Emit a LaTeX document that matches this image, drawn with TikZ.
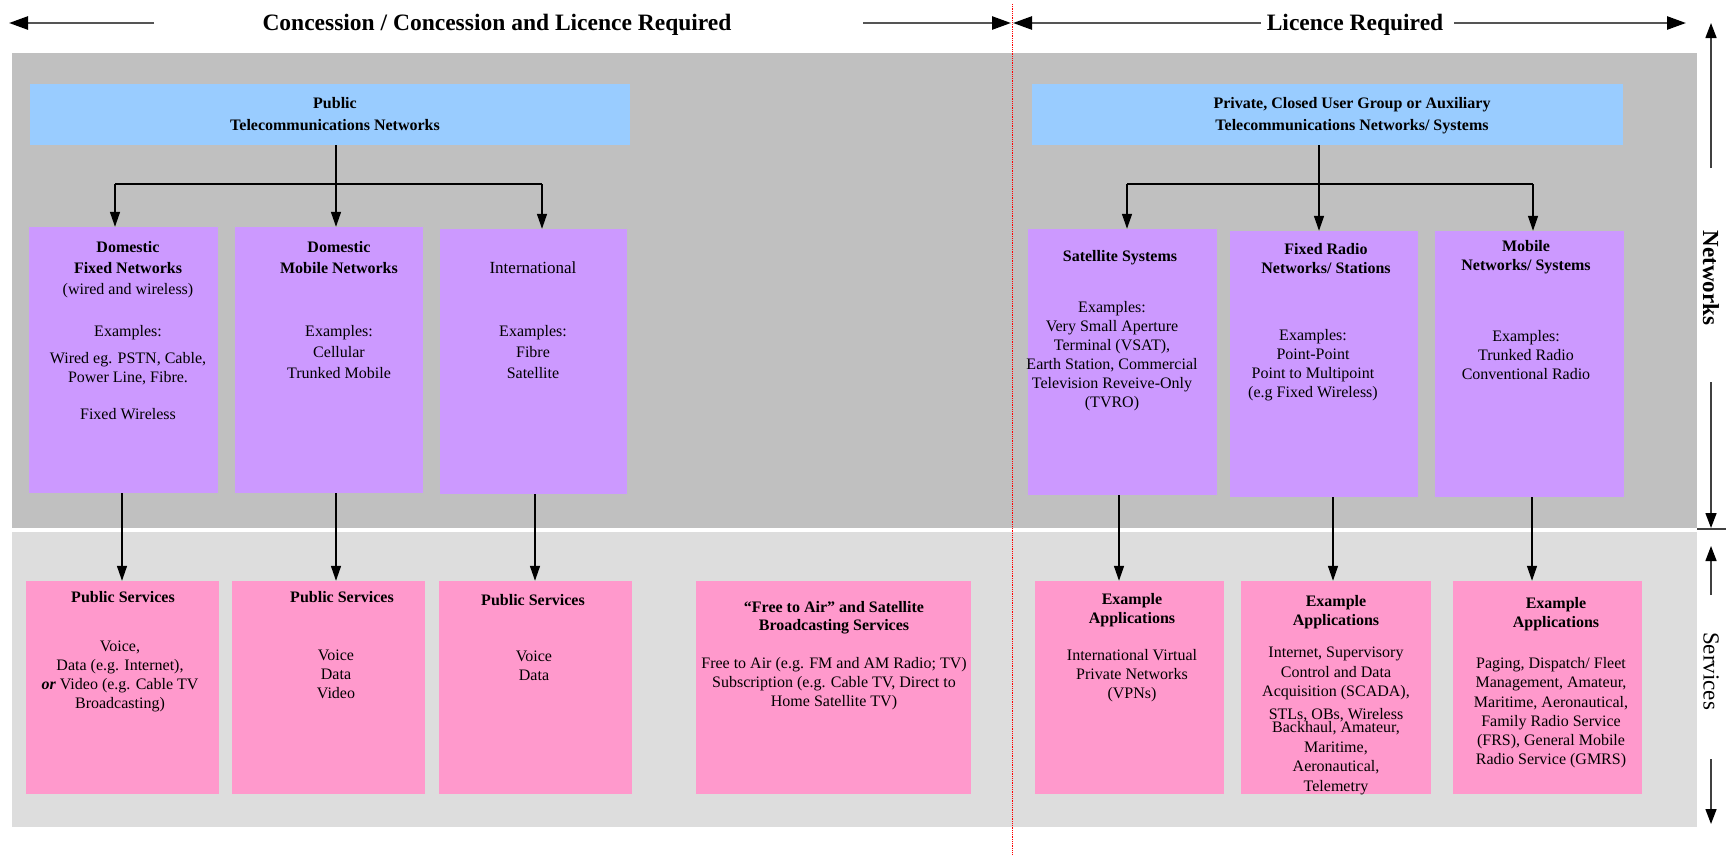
\documentclass[tikz,border=0pt]{standalone}
\usepackage{fontspec}
\setmainfont{Liberation Serif}
\usetikzlibrary{arrows.meta}
\definecolor{darkg}{HTML}{C0C0C0}
\definecolor{lightg}{HTML}{DDDDDD}
\definecolor{blueC}{HTML}{99CCFF}
\definecolor{purpC}{HTML}{CC99FF}
\definecolor{pinkC}{HTML}{FF99CC}
\definecolor{hdrline}{HTML}{555555}
\definecolor{sideline}{HTML}{404040}
\newcommand\fsz[1]{\fontsize{16}{#1}\selectfont}
\begin{document}
\begin{tikzpicture}[x=1pt,y=-1pt,
  bluebox/.style={fill=blueC,draw=none,inner sep=0pt},
  purplebox/.style={fill=purpC,draw=none,inner sep=0pt},
  pinkbox/.style={fill=pinkC,draw=none,inner sep=0pt,minimum height=213pt},
  txt/.style={align=center,anchor=north,inner sep=0pt,font=\fsz{19}},
  conn/.style={line width=1.4pt,black},
  arr/.style={conn,-{Triangle[length=15pt,width=10pt]}},
  hdrarr/.style={line width=2.5pt,hdrline,-{Triangle[length=19pt,width=13pt,fill=black,color=black]}},
  sidearr/.style={line width=1.5pt,sideline,-{Triangle[length=15pt,width=11pt,fill=black,color=black]}},
  hdrtext/.style={anchor=base,inner sep=0pt,font=\fontsize{23.5}{28}\selectfont\bfseries},
  sidetext/.style={rotate=-90,inner sep=0pt,font=\fontsize{23}{28}\selectfont}
]
\useasboundingbox (0,0) rectangle (1726,854);
\fill[white] (0,0) rectangle (1726,854);

% background bands
\fill[darkg] (12,53) rectangle (1697,528);
\fill[lightg] (12,532) rectangle (1697,827);

% separator
\draw[red,densely dotted,line width=0.8pt] (1012,4) -- (1012,854);

% header
\node[hdrtext] (hL) at (497,30) {Concession / Concession and Licence Required};
\node[hdrtext] (hR) at (1355,30) {Licence Required};
\coordinate (h1s) at (154,23); \coordinate (h1e) at (9,23);
\coordinate (h2s) at (863,23); \coordinate (h2e) at (1011,23);
\coordinate (h3s) at (1261,23); \coordinate (h3e) at (1013,23);
\coordinate (h4s) at (1454,23); \coordinate (h4e) at (1686,23);
\draw[hdrarr] (h1s) -- (h1e);
\draw[hdrarr] (h2s) -- (h2e);
\draw[hdrarr] (h3s) -- (h3e);
\draw[hdrarr] (h4s) -- (h4e);

% side labels
\node[sidetext,font=\fontsize{23}{28}\selectfont\bfseries] (netw) at (1711,278) {Networks};
\node[sidetext] (serv) at (1711,671) {Services};
\coordinate (n1s) at (1711,168); \coordinate (n1e) at (1711,23);
\coordinate (n2s) at (1711,382); \coordinate (n2e) at (1711,528);
\coordinate (s1s) at (1711,595); \coordinate (s1e) at (1711,546);
\coordinate (s2s) at (1711,759); \coordinate (s2e) at (1711,824);
\coordinate (tk1) at (1697,529); \coordinate (tk2) at (1726,529);
\draw[sidearr] (n1s) -- (n1e);
\draw[sidearr] (n2s) -- (n2e);
\draw[sidearr] (s1s) -- (s1e);
\draw[sidearr] (s2s) -- (s2e);
\draw[line width=1.5pt,sideline] (tk1) -- (tk2);

% top blue boxes
\node[bluebox,minimum width=600pt,minimum height=61pt] (BL) at (329.5,114.5) {};
\node[bluebox,minimum width=591pt,minimum height=61pt] (BR) at (1327,114.5) {};
\node[txt,font=\fontsize{16}{22}\selectfont\bfseries] (BLt) at (335,93) {\strut Public\\Telecommunications Networks};
\node[txt,font=\fontsize{16}{22}\selectfont\bfseries] (BRt) at (1352,93) {\strut Private, Closed User Group or Auxiliary\\Telecommunications Networks/ Systems};

% purple boxes
\node[purplebox,minimum width=189pt,minimum height=266pt] (L1) at (123.5,360) {};
\node[purplebox,minimum width=188pt,minimum height=266pt] (L2) at (329,360) {};
\node[purplebox,minimum width=187pt,minimum height=265pt] (L3) at (533.5,361.5) {};
\node[purplebox,minimum width=189pt,minimum height=266pt] (R1) at (1122.5,362) {};
\node[purplebox,minimum width=188pt,minimum height=266pt] (R2) at (1324,364) {};
\node[purplebox,minimum width=189pt,minimum height=266pt] (R3) at (1529.5,364) {};

\node[txt,font=\fsz{21}] (L1t) at (128,238) {\strut\textbf{Domestic}\\\textbf{Fixed Networks}\\(wired and wireless)\\[21pt]Examples:\\[6pt]Wired eg. PSTN, Cable,\\[-2pt]Power Line, Fibre.\\[16pt]Fixed Wireless};
\node[txt,font=\fsz{21}] (L2t) at (339,238) {\strut\textbf{Domestic}\\\textbf{Mobile Networks}\\[42pt]Examples:\\Cellular\\Trunked Mobile};
\node[txt,font=\fsz{21}] (L3t) at (533,259) {\strut\fontsize{17}{21}\selectfont International\\[42pt]\fsz{21}Examples:\\Fibre\\Satellite};

\node[txt,font=\fsz{19}\bfseries] (R1t) at (1120,248) {\strut Satellite Systems};
\node[txt] (R1b) at (1112,299) {\strut Examples:\\Very Small Aperture\\Terminal (VSAT),\\Earth Station, Commercial\\Television Reveive-Only\\(TVRO)};
\node[txt,font=\fsz{19}\bfseries] (R2t) at (1326,241) {\strut Fixed Radio\\Networks/ Stations};
\node[txt] (R2b) at (1313,327) {\strut Examples:\\Point-Point\\Point to Multipoint\\(e.g Fixed Wireless)};
\node[txt,font=\fsz{19}\bfseries] (R3t) at (1526,238) {\strut Mobile\\Networks/ Systems};
\node[txt] (R3b) at (1526,328) {\strut Examples:\\Trunked Radio\\Conventional Radio};

% top connectors
\coordinate (t1) at ([xshift=-8.5pt]L1.north);
\coordinate (t2) at ([xshift=7pt]L2.north);
\coordinate (t3) at ([xshift=8.5pt]L3.north);
\coordinate (barL) at (336,184);
\draw[conn] (BL.south -| t2) -- (barL);
\draw[conn] (barL -| t1) -- (barL -| t3);
\draw[arr] (barL -| t1) -- (t1);
\draw[arr] (barL -| t2) -- (t2);
\draw[arr] (barL -| t3) -- (t3);

\coordinate (t4) at ([xshift=4.5pt]R1.north);
\coordinate (t5) at ([xshift=-5pt]R2.north);
\coordinate (t6) at ([xshift=3.5pt]R3.north);
\coordinate (barR) at (1319,184);
\draw[conn] (BR.south -| t5) -- (barR);
\draw[conn] (barR -| t4) -- (barR -| t6);
\draw[arr] (barR -| t4) -- (t4);
\draw[arr] (barR -| t5) -- (t5);
\draw[arr] (barR -| t6) -- (t6);

% pink boxes
\node[pinkbox,minimum width=193pt] (P1) at (122.5,687.5) {};
\node[pinkbox,minimum width=193pt] (P2) at (328.5,687.5) {};
\node[pinkbox,minimum width=193pt] (P3) at (535.5,687.5) {};
\node[pinkbox,minimum width=275pt] (P4) at (833.5,687.5) {};
\node[pinkbox,minimum width=189pt] (P5) at (1129.5,687.5) {};
\node[pinkbox,minimum width=190pt] (P6) at (1336,687.5) {};
\node[pinkbox,minimum width=189pt] (P7) at (1547.5,687.5) {};

\node[txt,font=\fsz{19}\bfseries] (P1t) at (123,589) {\strut Public Services};
\node[txt] (P1b) at (120,638) {\strut Voice,\\Data (e.g. Internet),\\\textbf{\textit{or}} Video (e.g. Cable TV\\Broadcasting)};
\node[txt,font=\fsz{19}\bfseries] (P2t) at (342,589) {\strut Public Services};
\node[txt] (P2b) at (336,647) {\strut Voice\\Data\\Video};
\node[txt,font=\fsz{19}\bfseries] (P3t) at (533,592) {\strut Public Services};
\node[txt] (P3b) at (534,648) {\strut Voice\\Data};
\node[txt,font=\fontsize{16}{18.5}\selectfont\bfseries] (P4t) at (834,599) {\strut “Free to Air” and Satellite\\Broadcasting Services};
\node[txt] (P4b) at (834,655) {\strut Free to Air (e.g. FM and AM Radio; TV)\\Subscription (e.g. Cable TV, Direct to\\Home Satellite TV)};
\node[txt,font=\fsz{19}\bfseries] (P5t) at (1132,591) {\strut Example\\Applications};
\node[txt] (P5b) at (1132,647) {\strut International Virtual\\Private Networks\\(VPNs)};
\node[txt,font=\fsz{19}\bfseries] (P6t) at (1336,593) {\strut Example\\Applications};
\node[txt,font=\fsz{19.5}] (P6b) at (1336,644) {\strut Internet, Supervisory\\Control and Data\\Acquisition (SCADA),\\[3pt]STLs, OBs, Wireless\\[-6pt]Backhaul, Amateur,\\Maritime,\\Aeronautical,\\Telemetry};
\node[txt,font=\fsz{19}\bfseries] (P7t) at (1556,595) {\strut Example\\Applications};
\node[txt,font=\fsz{19.2}] (P7b) at (1551,655) {\strut Paging, Dispatch/ Fleet\\Management, Amateur,\\Maritime, Aeronautical,\\Family Radio Service\\(FRS), General Mobile\\Radio Service (GMRS)};

% bottom connectors
\coordinate (b1) at ([xshift=-1.5pt]L1.south);
\coordinate (b2) at ([xshift=7pt]L2.south);
\coordinate (b3) at ([xshift=1.5pt]L3.south);
\coordinate (b4) at ([xshift=-3.5pt]R1.south);
\coordinate (b5) at ([xshift=9pt]R2.south);
\coordinate (b6) at ([xshift=2.5pt]R3.south);
\draw[arr] (b1) -- (b1 |- P1.north);
\draw[arr] (b2) -- (b2 |- P2.north);
\draw[arr] (b3) -- (b3 |- P3.north);
\draw[arr] (b4) -- (b4 |- P5.north);
\draw[arr] (b5) -- (b5 |- P6.north);
\draw[arr] (b6) -- (b6 |- P7.north);
\end{tikzpicture}
\end{document}
